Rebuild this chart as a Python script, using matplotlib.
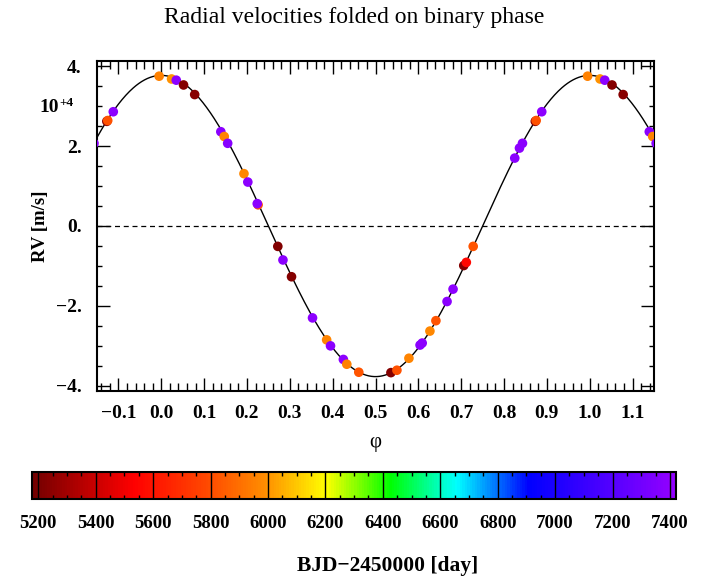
import numpy as np
import matplotlib.pyplot as plt
from matplotlib.colors import LinearSegmentedColormap
from matplotlib.ticker import MultipleLocator, FuncFormatter

# folded phase, radial velocity [m/s] and observation epoch [BJD-2450000]
phase = [0.995, 0.024, 0.035, 0.052, 0.078, 0.139, 0.147, 0.155, 0.193, 0.202,
         0.226, 0.224, 0.272, 0.284, 0.304, 0.353, 0.386, 0.395, 0.425, 0.433,
         0.461, 0.536, 0.550, 0.578, 0.604, 0.609, 0.627, 0.641, 0.667, 0.681,
         0.706, 0.712, 0.728, 0.825, 0.836, 0.843, 0.873, 0.875, 0.888]
rv = [37500, 36800, 36500, 35300, 32900, 23600, 22400, 20700, 13100, 11000,
      5300, 5600, -5100, -8500, -12700, -23000, -28500, -30000, -33400, -34600,
      -36600, -36700, -36100, -33100, -29800, -29300, -26300, -23700, -18900, -15800,
      -9900, -9100, -5100, 17000, 19500, 20700, 26200, 26400, 28600]
bjd = [5950, 6000, 7390, 5230, 5240, 7380, 5960, 7370, 5970, 7390,
       5820, 7380, 5220, 7380, 5230, 7390, 5960, 7380, 7390, 5950,
       5820, 5230, 5810, 5960, 7380, 7390, 5970, 5820, 7380, 7390,
       5230, 5560, 5820, 7380, 7390, 7380, 5240, 5810, 7390]

# circular orbit model
K_model = 37700.0

bjd_min, bjd_max = 5179, 7420
cbar_ticks = [5200, 5400, 5600, 5800, 6000, 6200, 6400, 6600, 6800, 7000, 7200, 7400]

cmap = LinearSegmentedColormap.from_list("bjd", [
    (0.0, (0.45, 0.0, 0.0)),
    (0.157, (1.0, 0.0, 0.0)),
    (0.276, (1.0, 0.3, 0.0)),
    (0.36, (1.0, 0.55, 0.0)),
    (0.457, (1.0, 1.0, 0.0)),
    (0.556, (0.0, 1.0, 0.0)),
    (0.66, (0.0, 1.0, 1.0)),
    (0.773, (0.0, 0.0, 1.0)),
    (1.0, (0.58, 0.0, 1.0)),
])

plt.rcParams['font.family'] = ['Liberation Serif', 'DejaVu Serif']
plt.rcParams['axes.unicode_minus'] = True


def fmt_minus(s):
    return s.replace('-', '\u2212')


def xfmt(v, pos):
    if abs(v) < 1e-9:
        v = 0.0
    return fmt_minus(f"{v:.1f}")


def yfmt(v, pos):
    return fmt_minus(f"{v / 1e4:.0f}.")


fig = plt.figure(figsize=(7.08, 5.82), dpi=100)
ax = fig.add_axes([97 / 708, 1 - 391 / 582, 557 / 708, 330 / 582])

# repeat points one cycle either side so the window -0.15..1.15 is filled
ph = np.array(phase)
px, py, pc = [], [], []
for i in range(len(ph)):
    for shift in (-1, 0, 1):
        p = ph[i] + shift
        if -0.2 < p < 1.2:
            px.append(p)
            py.append(rv[i])
            pc.append(bjd[i])

xm = np.linspace(-0.15, 1.15, 600)
ax.plot(xm, K_model * np.cos(2 * np.pi * xm), color='black', lw=1.0, zorder=2)
ax.axhline(0, color='black', lw=0.9, ls=(0, (4, 3)), zorder=1)
sc = ax.scatter(px, py, c=pc, cmap=cmap, vmin=bjd_min, vmax=bjd_max,
                s=48, linewidths=0, zorder=3)

ax.set_xlim(-0.15, 1.15)
ax.set_ylim(-41300, 41300)
ax.xaxis.set_major_locator(MultipleLocator(0.1))
ax.xaxis.set_minor_locator(MultipleLocator(0.02))
ax.yaxis.set_major_locator(MultipleLocator(20000))
ax.yaxis.set_minor_locator(MultipleLocator(5000))
ax.xaxis.set_major_formatter(FuncFormatter(xfmt))
ax.yaxis.set_major_formatter(FuncFormatter(yfmt))
ax.tick_params(which='both', direction='in', top=True, right=True, width=1.0)
ax.tick_params(axis='x', which='major', length=9.5, pad=10)
ax.tick_params(axis='x', which='minor', length=5.5)
ax.tick_params(axis='y', which='major', length=9.5, pad=11)
ax.tick_params(axis='y', which='minor', length=3.8)
for lab in ax.get_xticklabels() + ax.get_yticklabels():
    lab.set_fontweight('bold')
    lab.set_fontsize(14)
for sp in ax.spines.values():
    sp.set_linewidth(1.5)

ax.set_xlabel('\u03c6', fontsize=15, labelpad=8)
ax.set_ylabel('RV [m/s]', fontsize=13.5, fontweight='bold', labelpad=5)
fig.text(59 / 708, 1 - 108 / 582, '10', fontsize=14, fontweight='bold',
         ha='right', va='center')
fig.text(59 / 708, 1 - 103 / 582, '+4', fontsize=9.5, fontweight='bold',
         ha='left', va='center')
fig.text(0.5, 1 - 17 / 582, 'Radial velocities folded on binary phase',
         fontsize=17, ha='center', va='center')

cax = fig.add_axes([32.3 / 708, 1 - 499.3 / 582, 643.4 / 708, 27.6 / 582])
cb = fig.colorbar(sc, cax=cax, orientation='horizontal')
cb.set_ticks(cbar_ticks)
cb.set_ticklabels([str(t) for t in cbar_ticks])
cb.outline.set_linewidth(1.5)
cax.xaxis.set_minor_locator(MultipleLocator(50))
cax.tick_params(which='major', length=0, pad=11)
cax.tick_params(which='minor', direction='in', top=True, bottom=True, length=3, width=1.0)
for t in cbar_ticks + [bjd_max]:
    cax.axvline(t, color='black', lw=1.0)
for lab in cax.get_xticklabels():
    lab.set_fontweight('bold')
    lab.set_fontsize(13.5)
fig.text(387.5 / 708, 1 - 566 / 582, 'BJD\u22122450000 [day]', fontsize=15.5,
         fontweight='bold', ha='center', va='center')

fig.savefig('out.png', dpi=100)
